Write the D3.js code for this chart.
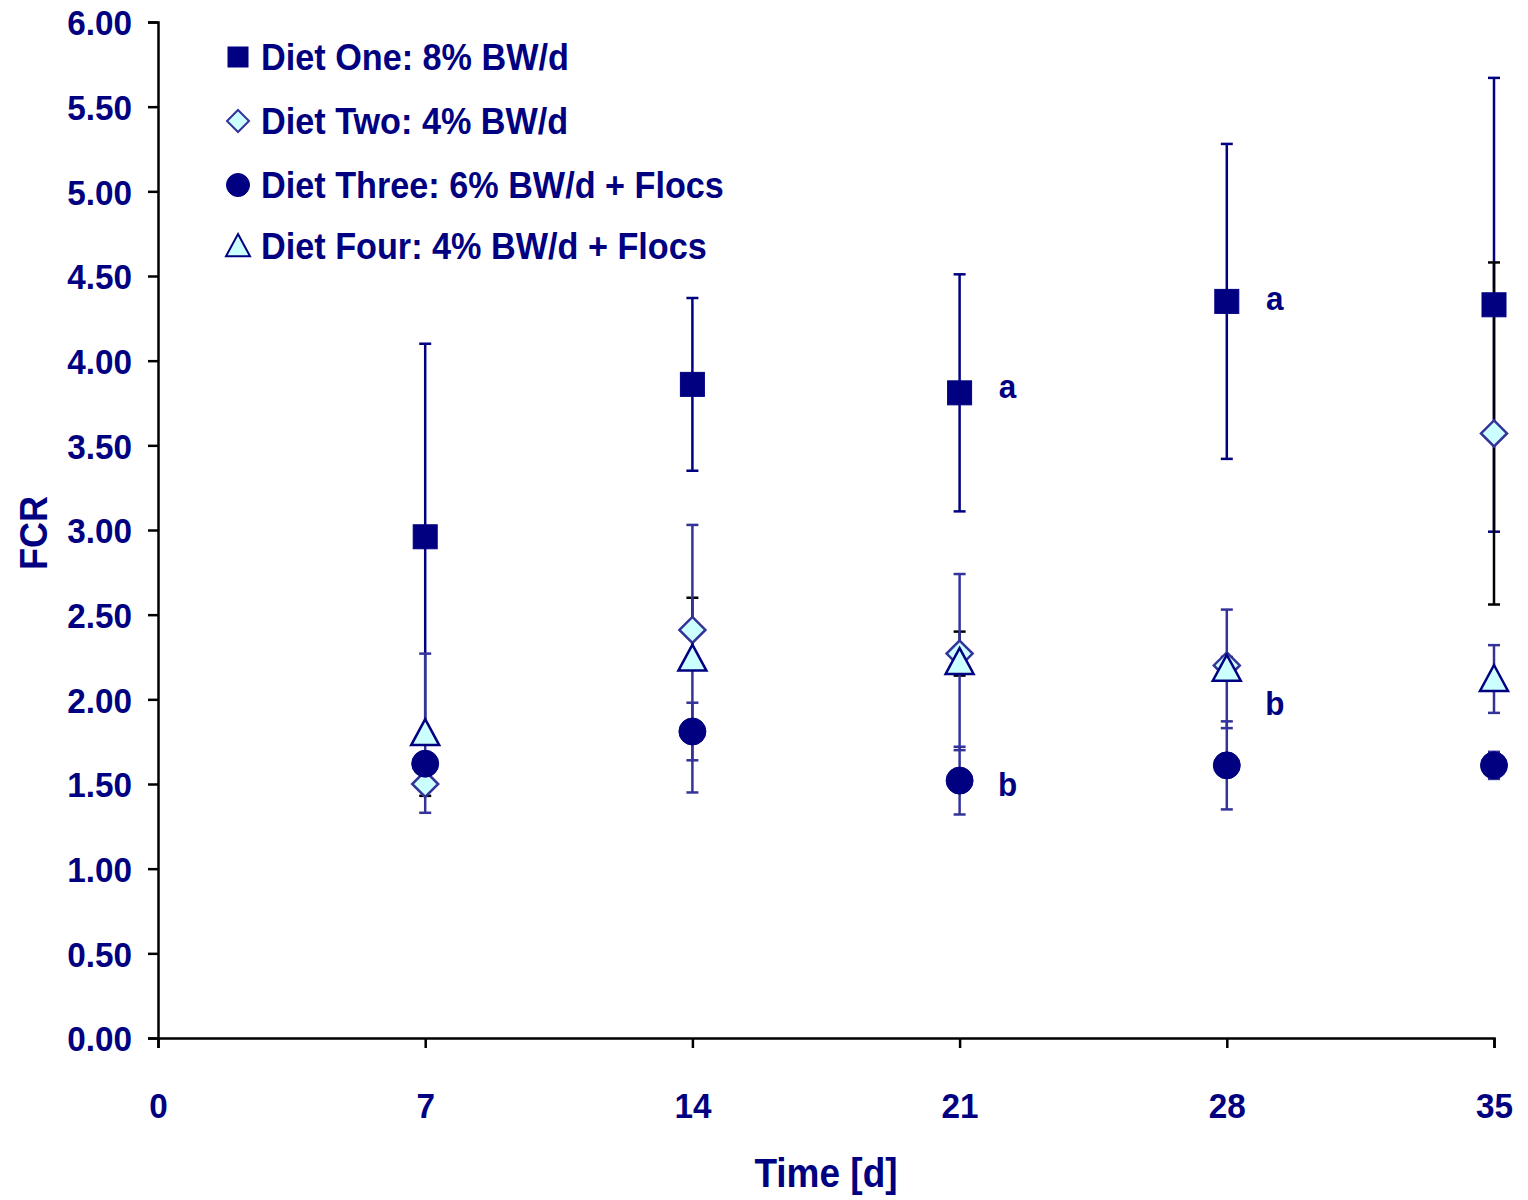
<!DOCTYPE html>
<html>
<head>
<meta charset="utf-8">
<script src="https://cdn.jsdelivr.net/npm/d3@7"></script>
<style>
  html, body { margin: 0; padding: 0; background: #fff; }
  svg text { font-family: "Liberation Sans", Arial, sans-serif; font-weight: bold; fill: #000080; }
</style>
</head>
<body>
<svg id="chart" width="1528" height="1200"></svg>
<script>
// sampling days
const days = [7, 14, 21, 28, 35];
const xTicks = [0, 7, 14, 21, 28, 35];
const yTicks = [0, 0.5, 1, 1.5, 2, 2.5, 3, 3.5, 4, 4.5, 5, 5.5, 6];

// FCR means and error (+/-) per diet
const dietOneMean = [2.96, 3.86, 3.81, 4.35, 4.33];
const dietOneErr  = [1.14, 0.51, 0.70, 0.93, 1.34];
const dietTwoMean = [1.50, 2.41, 2.27, 2.20, 3.57];
const dietTwoErr  = [0.07, 0.19, 0.13, 0.05, 1.01];
const dietThreeMean = [1.62, 1.81, 1.52, 1.61, 1.61];
const dietThreeErr  = [0.05, 0.17, 0.20, 0.26, 0.08];
const dietFourMean = [1.80, 2.24, 2.22, 2.18, 2.12];
const dietFourErr  = [0.47, 0.79, 0.52, 0.35, 0.20];

const legendLabels = [
  'Diet One: 8% BW/d',
  'Diet Two: 4% BW/d',
  'Diet Three: 6% BW/d + Flocs',
  'Diet Four: 4% BW/d + Flocs'
];

// significance letters
const letterDays = [21, 28, 21, 28];
const letterVals = [3.85, 4.37, 1.50, 1.98];
const letterText = ['a', 'a', 'b', 'b'];

const navy = '#000080';
const narrow = 0.925; // the original type is a bit condensed
const series = [
  { mean: dietOneMean, err: dietOneErr, shape: 'square', fill: navy, stroke: navy, bar: navy },
  { mean: dietTwoMean, err: dietTwoErr, shape: 'diamond', fill: '#CCFFFF', stroke: '#333399', bar: '#000000' },
  { mean: dietThreeMean, err: dietThreeErr, shape: 'circle', fill: navy, stroke: navy, bar: '#333399' },
  { mean: dietFourMean, err: dietFourErr, shape: 'triangle', fill: '#CCFFFF', stroke: navy, bar: '#333399' }
];

const svg = d3.select('#chart');
const x = d3.scaleLinear().domain([0, 35]).range([158, 1494]);
const y = d3.scaleLinear().domain([0, 6]).range([1038, 22]);

// condensed text helper
function label(parent, tx, ty, txt, size, anchor, rotate) {
  const g = parent.append('g')
    .attr('transform', `translate(${tx},${ty})` + (rotate ? ` rotate(${rotate})` : '') + ` scale(${narrow},1)`);
  return g.append('text').attr('text-anchor', anchor || 'start').style('font-size', size + 'px').text(txt);
}

// axes
const yAxis = svg.append('g').attr('transform', 'translate(158,0)')
  .call(d3.axisLeft(y).tickValues(yTicks).tickFormat(d3.format('.2f')).tickSize(10).tickPadding(18));
const xAxis = svg.append('g').attr('transform', 'translate(0,1038)')
  .call(d3.axisBottom(x).tickValues(xTicks).tickSize(10).tickPadding(44));
[yAxis, xAxis].forEach(g => {
  g.select('.domain').attr('stroke', '#000').attr('stroke-width', 2.5);
  g.selectAll('.tick line').attr('stroke', '#000').attr('stroke-width', 2.5);
  g.selectAll('.tick text').attr('fill', navy).style('font-size', '36px')
    .style('font-family', '"Liberation Sans", Arial, sans-serif').style('font-weight', 'bold')
    .attr('transform', `scale(${narrow},1)`);
});
yAxis.selectAll('.tick text').attr('dy', '0.36em');

label(svg, 826, 1187, 'Time [d]', 40, 'middle');
label(svg, 47, 533, 'FCR', 39, 'middle', -90);

function drawMarker(g, shape, cx, cy, size) {
  if (shape === 'square') {
    return g.append('rect').attr('x', cx - size / 2).attr('y', cy - size / 2)
      .attr('width', size).attr('height', size);
  }
  if (shape === 'circle') {
    return g.append('circle').attr('cx', cx).attr('cy', cy).attr('r', size / 2 + 1.5);
  }
  if (shape === 'diamond') {
    const h = size / 2 + 1;
    return g.append('path').attr('d', `M${cx},${cy - h}L${cx + h},${cy}L${cx},${cy + h}L${cx - h},${cy}Z`);
  }
  const h = size / 2 + 2;
  return g.append('path').attr('d', `M${cx},${cy - h}L${cx + h},${cy + h * 0.85}L${cx - h},${cy + h * 0.85}Z`);
}

// error bars first (all series), then markers on top
const bars = svg.append('g');
series.forEach(s => {
  days.forEach((d, i) => {
    const cx = x(d);
    const top = y(s.mean[i] + s.err[i]);
    const bot = y(s.mean[i] - s.err[i]);
    bars.append('line').attr('x1', cx).attr('x2', cx).attr('y1', top).attr('y2', bot)
      .attr('stroke', s.bar).attr('stroke-width', 2.5);
    [top, bot].forEach(v => bars.append('line').attr('x1', cx - 6).attr('x2', cx + 6)
      .attr('y1', v).attr('y2', v).attr('stroke', s.bar).attr('stroke-width', 2.5));
  });
});

const marks = svg.append('g');
series.forEach(s => {
  days.forEach((d, i) => {
    drawMarker(marks, s.shape, x(d), y(s.mean[i]), 24)
      .attr('fill', s.fill).attr('stroke', s.stroke)
      .attr('stroke-width', s.fill === navy ? 1 : 2.5);
  });
});

// letters
letterText.forEach((t, i) => {
  label(svg, x(letterDays[i]) + 48, y(letterVals[i]) + 12, t, 34, 'middle');
});

// legend
const legendY = [57, 121, 185, 246];
legendLabels.forEach((txt, i) => {
  const s = series[i];
  drawMarker(svg, s.shape, 238, legendY[i], 20)
    .attr('fill', s.fill).attr('stroke', s.stroke).attr('stroke-width', s.fill === navy ? 1 : 2);
  label(svg, 261, legendY[i] + 13, txt, 37);
});
</script>
</body>
</html>
